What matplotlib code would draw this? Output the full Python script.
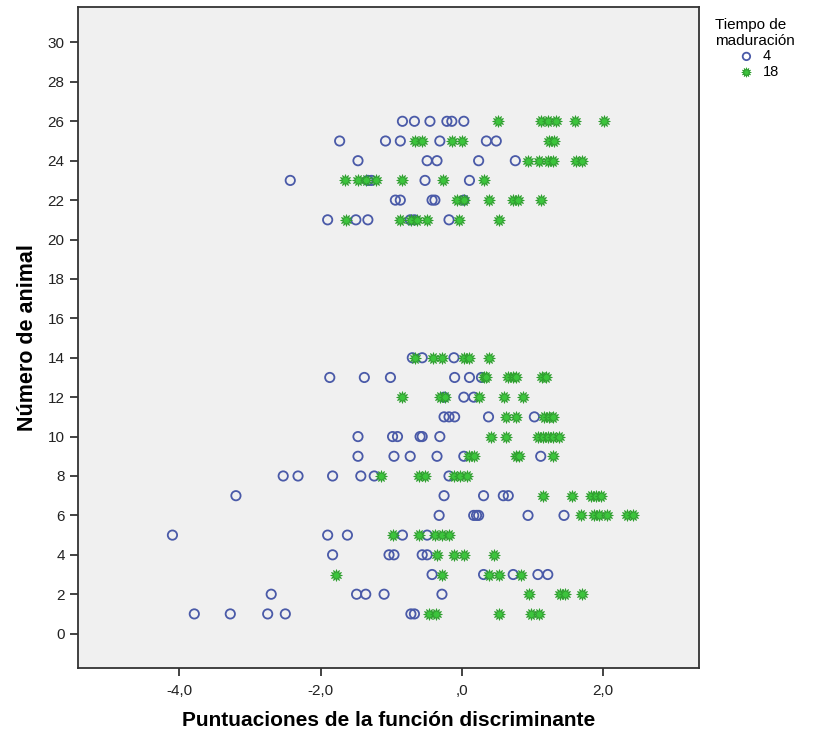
import matplotlib
matplotlib.use("Agg")
import matplotlib.pyplot as plt
import numpy as np

# ---- data: (score, animal) per maturation time ----
x4 = {
    26: [-0.84, -0.67, -0.45, -0.21, -0.14, 0.03],
    25: [-1.73, -1.08, -0.87, -0.31, 0.35, 0.49],
    24: [-1.47, -0.49, -0.35, 0.24, 0.76],
    23: [-2.43, -1.33, -1.28, -0.52, 0.11],
    22: [-0.94, -0.87, -0.42, -0.38, 0.03],
    21: [-1.90, -1.50, -1.33, -0.73, -0.67, -0.18],
    14: [-0.70, -0.56, -0.11],
    13: [-1.87, -1.38, -1.01, -0.10, 0.11, 0.28],
    12: [-0.25, 0.03, 0.17],
    11: [-0.25, -0.18, -0.10, 0.38, 1.03],
    10: [-1.47, -0.98, -0.91, -0.59, -0.56, -0.31],
    9: [-1.47, -0.96, -0.73, -0.35, 0.03, 1.12],
    8: [-2.53, -2.32, -1.83, -1.43, -1.24, -0.18],
    7: [-3.20, -0.25, 0.31, 0.59, 0.66],
    6: [-0.32, 0.17, 0.21, 0.24, 0.94, 1.45],
    5: [-4.10, -1.90, -1.62, -0.84, -0.49],
    4: [-1.83, -1.03, -0.96, -0.56, -0.49],
    3: [-0.42, 0.31, 0.73, 1.08, 1.22],
    2: [-2.70, -1.49, -1.36, -1.10, -0.28],
    1: [-3.79, -3.28, -2.75, -2.50, -0.72, -0.67],
}
x18 = {
    26: [0.52, 1.12, 1.22, 1.33, 1.60, 2.01],
    25: [-0.66, -0.56, -0.14, 0.00, 1.24, 1.31],
    24: [0.94, 1.10, 1.22, 1.29, 1.62, 1.71],
    23: [-1.66, -1.47, -1.36, -1.22, -0.84, -0.27, 0.31],
    22: [-0.07, 0.03, 0.39, 0.73, 0.80, 1.12],
    21: [-1.64, -0.87, -0.72, -0.63, -0.49, -0.04, 0.53],
    14: [-0.66, -0.41, -0.28, 0.03, 0.10, 0.38],
    13: [0.31, 0.35, 0.66, 0.73, 0.77, 1.14, 1.19],
    12: [-0.84, -0.31, -0.24, 0.25, 0.60, 0.87],
    11: [0.63, 0.77, 1.17, 1.24, 1.29],
    10: [0.42, 0.63, 1.08, 1.15, 1.22, 1.29, 1.38],
    9: [0.10, 0.17, 0.77, 0.81, 1.29],
    8: [-1.15, -0.60, -0.52, -0.11, -0.03, 0.07],
    7: [1.15, 1.57, 1.83, 1.90, 1.97],
    6: [1.69, 1.87, 1.94, 2.06, 2.35, 2.43],
    5: [-0.98, -0.60, -0.38, -0.28, -0.18],
    4: [-0.35, -0.11, 0.03, 0.46],
    3: [-1.78, -0.28, 0.39, 0.53, 0.84],
    2: [0.96, 1.40, 1.47, 1.71],
    1: [-0.47, -0.36, 0.53, 0.98, 1.10],
}
x_ticks = [-4, -2, 0, 2]
x_ticklabels = ["-4,0", "-2,0", ",0", "2,0"]
y_ticks = list(range(0, 31, 2))
legend_labels = ["4", "18"]

def flatten(d):
    xs, ys = [], []
    for k, vals in d.items():
        xs += vals
        ys += [k] * len(vals)
    return np.array(xs), np.array(ys)

a_x, a_y = flatten(x4)
b_x, b_y = flatten(x18)

plt.rcParams['font.family'] = ['Liberation Sans', 'DejaVu Sans']
fig = plt.figure(figsize=(8.2, 7.37), dpi=100)
ax = fig.add_axes([0.095, 0.094, 0.758, 0.8965])
ax.set_facecolor('#f0f0f0')

star = (12, 1, 0)
h1 = ax.scatter(a_x, a_y, s=45, marker='o', facecolors='none',
                edgecolors='#4a5aa8', linewidths=1.3, zorder=3)
h2 = ax.scatter(b_x, b_y, s=70, marker=star, facecolors='#3cc43c',
                edgecolors='#2e9e2e', linewidths=0.6, zorder=3)

ax.set_xlim(-5.44, 3.37)
ax.set_ylim(-1.73, 31.8)
ax.set_xticks(x_ticks)
ax.set_xticklabels(x_ticklabels)
ax.set_yticks(y_ticks)
ax.tick_params(axis='both', direction='out', length=6, width=1.2,
               labelsize=11, colors='#222222')
ax.tick_params(axis='x', pad=6)
for side in ['left', 'bottom', 'right', 'top']:
    ax.spines[side].set_color('#333333')
    ax.spines[side].set_linewidth(1.3)

ax.set_xlabel('Puntuaciones de la función discriminante', fontsize=15,
              fontweight='bold', labelpad=9)
ax.set_ylabel('Número de animal', fontsize=15.5, fontweight='bold', labelpad=7)

leg = fig.legend([h1, h2], legend_labels, title='Tiempo de\nmaduración',
                 loc='upper left', bbox_to_anchor=(0.86, 0.99),
                 frameon=False, fontsize=10.5, title_fontsize=11,
                 handletextpad=0.1, borderpad=0.2, labelspacing=0.1,
                 markerscale=0.8)
leg._legend_box.align = 'center'
fig.savefig('out.png', dpi=100, facecolor='white')
